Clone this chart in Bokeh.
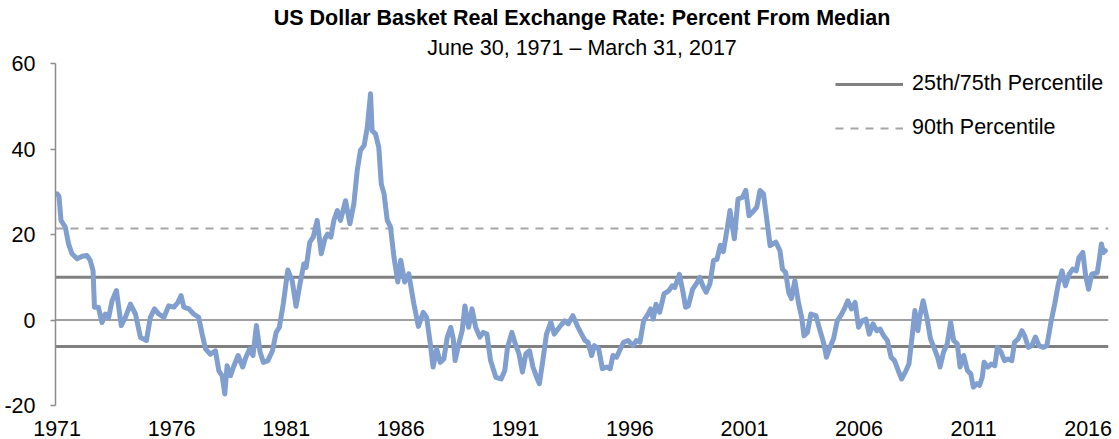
import numpy as np
from bokeh.plotting import figure
from bokeh.models import Range1d, FixedTicker, Span, Legend, LegendItem, Title, ColumnDataSource
from bokeh.embed import file_html
from bokeh.resources import INLINE

# ---- data (fractional year, percent from median) ----
dates = [
    1971.50, 1971.58, 1971.67, 1971.86, 1972.00, 1972.15, 1972.37, 1972.60, 1972.80, 1972.95,
    1973.07, 1973.13, 1973.30, 1973.46, 1973.60, 1973.75, 1973.90, 1974.09, 1974.30, 1974.48,
    1974.70, 1974.92, 1975.14, 1975.40, 1975.57, 1975.75, 1975.94, 1976.16, 1976.37, 1976.60,
    1976.77, 1976.91, 1977.03, 1977.25, 1977.46, 1977.68, 1977.83, 1977.98, 1978.19, 1978.41,
    1978.56, 1978.70, 1978.82, 1978.92, 1979.07, 1979.20, 1979.40, 1979.60, 1979.74, 1979.90,
    1980.05, 1980.20, 1980.36, 1980.50, 1980.70, 1980.90, 1981.06, 1981.20, 1981.37, 1981.57,
    1981.76, 1981.93, 1982.10, 1982.27, 1982.37, 1982.53, 1982.68, 1982.85, 1983.03, 1983.19,
    1983.30, 1983.45, 1983.58, 1983.73, 1983.87, 1984.09, 1984.28, 1984.45, 1984.60, 1984.74,
    1984.90, 1985.04, 1985.18, 1985.25, 1985.40, 1985.54, 1985.65, 1985.77, 1985.91, 1986.05,
    1986.20, 1986.37, 1986.50, 1986.67, 1986.85, 1987.07, 1987.27, 1987.48, 1987.63, 1987.79,
    1987.91, 1988.07, 1988.22, 1988.38, 1988.53, 1988.68, 1988.79, 1988.87, 1989.03, 1989.18,
    1989.30, 1989.46, 1989.61, 1989.77, 1989.95, 1990.10, 1990.26, 1990.42, 1990.65, 1990.88,
    1991.04, 1991.16, 1991.35, 1991.50, 1991.66, 1991.81, 1991.96, 1992.12, 1992.27, 1992.43,
    1992.55, 1992.70, 1992.86, 1993.05, 1993.20, 1993.42, 1993.65, 1993.81, 1994.01, 1994.20,
    1994.39, 1994.54, 1994.67, 1994.83, 1994.95, 1995.14, 1995.30, 1995.48, 1995.64, 1995.76,
    1995.92, 1996.08, 1996.23, 1996.42, 1996.63, 1996.78, 1996.94, 1997.10, 1997.25, 1997.41,
    1997.52, 1997.64, 1997.80, 1997.99, 1998.19, 1998.35, 1998.46, 1998.66, 1998.82, 1998.93,
    1999.05, 1999.24, 1999.44, 1999.55, 1999.68, 1999.83, 1999.99, 2000.15, 2000.30, 2000.45,
    2000.58, 2000.72, 2000.87, 2001.06, 2001.22, 2001.41, 2001.56, 2001.70, 2001.85, 2002.04,
    2002.18, 2002.33, 2002.50, 2002.62, 2002.87, 2003.05, 2003.16, 2003.30, 2003.43, 2003.55,
    2003.70, 2003.86, 2004.00, 2004.10, 2004.25, 2004.40, 2004.62, 2004.80, 2004.97, 2005.08,
    2005.23, 2005.39, 2005.55, 2005.70, 2005.86, 2006.01, 2006.17, 2006.33, 2006.48, 2006.64,
    2006.80, 2006.95, 2007.11, 2007.27, 2007.42, 2007.58, 2007.74, 2007.90, 2008.05, 2008.21,
    2008.36, 2008.52, 2008.68, 2008.83, 2008.94, 2009.07, 2009.15, 2009.30, 2009.46, 2009.62,
    2009.77, 2009.93, 2010.04, 2010.19, 2010.35, 2010.50, 2010.63, 2010.79, 2010.91, 2011.07,
    2011.23, 2011.38, 2011.49, 2011.65, 2011.76, 2011.88, 2011.96, 2012.12, 2012.27, 2012.43,
    2012.54, 2012.70, 2012.85, 2013.01, 2013.17, 2013.29, 2013.45, 2013.61, 2013.73, 2013.89,
    2014.04, 2014.20, 2014.36, 2014.54, 2014.70, 2014.89, 2015.04, 2015.20, 2015.36, 2015.51,
    2015.67, 2015.83, 2015.98, 2016.10, 2016.27, 2016.39, 2016.52, 2016.66, 2016.90, 2017.00,
    2017.08, 2017.17, 2017.25,
]
pct_from_median = [
    29.5, 29.0, 23.3, 21.7, 17.8, 15.5, 14.3, 14.9, 15.1, 13.9,
    11.5, 3.0, 3.0, -0.6, 1.4, 0.6, 4.5, 6.9, -1.3, 0.6,
    3.7, 1.4, -4.1, -4.8, 0.6, 2.6, 1.4, 0.6, 3.3, 3.0,
    4.1, 5.7, 3.0, 2.6, 1.4, 0.6, -3.3, -6.8, -8.0, -7.2,
    -11.9, -13.0, -17.3, -10.7, -13.0, -11.0, -8.3, -11.0, -8.7, -6.8,
    -8.3, -1.3, -7.5, -9.9, -9.5, -7.2, -2.9, -1.7, 3.7, 11.7,
    9.2, 3.2, 8.4, 13.1, 12.3, 18.2, 19.4, 23.3, 15.5, 19.0,
    20.1, 19.4, 23.3, 25.6, 23.3, 27.9, 22.5, 27.1, 35.0, 39.7,
    40.8, 45.1, 52.9, 44.3, 43.5, 40.4, 31.8, 29.5, 23.3, 21.8,
    14.8, 8.9, 14.0, 8.9, 10.8, 3.8, -1.5, 1.8, 0.6, -5.6,
    -11.0, -6.8, -9.9, -9.1, -4.0, -1.7, -4.4, -9.5, -5.6, -2.5,
    3.3, -1.7, 2.6, -1.7, -4.0, -2.9, -3.3, -9.5, -13.4, -13.8,
    -11.8, -6.4, -2.9, -5.6, -7.9, -12.2, -7.9, -7.2, -11.0, -13.4,
    -14.9, -9.5, -3.3, -0.5, -3.3, -1.7, -0.2, -0.9, 1.0, -1.3,
    -3.3, -4.8, -5.2, -8.3, -6.0, -6.8, -11.4, -11.0, -11.4, -8.3,
    -8.7, -6.8, -5.2, -4.8, -6.0, -4.8, -5.2, -0.2, 1.0, 2.6,
    0.2, 3.7, 1.8, 6.1, 6.8, 8.0, 7.6, 10.7, 6.5, 3.0,
    3.3, 7.2, 8.8, 10.0, 8.0, 6.5, 8.4, 13.9, 14.2, 17.5,
    16.0, 20.5, 25.6, 19.0, 28.3, 28.7, 30.3, 24.4, 25.2, 26.4,
    30.3, 29.5, 22.5, 17.4, 18.2, 16.2, 11.9, 11.1, 6.5, 5.0,
    9.2, 4.0, 0.6, -3.7, -2.9, 1.4, 1.0, -2.5, -5.6, -8.7,
    -6.4, -4.4, -0.2, 1.0, 2.6, 4.5, 2.6, 4.1, -1.7, -0.2,
    0.2, -3.3, -0.9, -2.5, -2.1, -3.7, -4.8, -8.7, -9.5, -11.8,
    -13.8, -12.2, -10.3, -3.3, 2.2, -2.5, 0.6, 4.5, 0.6, -4.4,
    -6.4, -8.7, -11.0, -7.5, -5.6, -0.5, -4.8, -5.6, -11.0, -8.3,
    -11.8, -12.6, -15.7, -14.9, -15.3, -13.4, -9.9, -11.0, -10.3, -10.7,
    -6.4, -7.5, -9.5, -9.1, -9.5, -5.2, -4.4, -2.5, -3.7, -6.4,
    -6.0, -4.0, -6.0, -6.4, -6.0, -0.2, 3.7, 8.4, 11.5, 8.0,
    10.7, 11.9, 11.5, 14.6, 15.8, 10.4, 7.2, 10.7, 11.1, 14.6,
    17.8, 15.8, 16.2,
]
percentile_25 = -6.2
percentile_75 = 10.0
percentile_90 = 21.4
tick_years = [1971, 1976, 1981, 1986, 1991, 1996, 2001, 2006, 2011, 2016]
tick_labels = [str(y) for y in tick_years]
y_ticks = [-20, 0, 20, 40, 60]
y_tick_labels = ["-20", "0", "20", "40", "60"]

FONT = "Liberation Sans"
FS = "21.5px"
BLUE = "#809ECE"
DARK = "#808080"
LIGHT = "#A6A6A6"

p = figure(width=1119, height=439, output_backend="svg", toolbar_location=None,
           x_range=Range1d(1971.43, 2017.39), y_range=Range1d(-20, 60),
           min_border_left=55, min_border_right=11, min_border_top=63, min_border_bottom=34,
           title=None)
p.outline_line_color = None
p.xgrid.visible = False
p.ygrid.visible = False
p.background_fill_color = "white"
p.border_fill_color = "white"

# reference lines
for loc, col, w, dash in [(0, "#A0A0A0", 2, "solid"),
                          (percentile_75, DARK, 3, "solid"),
                          (percentile_25, DARK, 3, "solid"),
                          (percentile_90, LIGHT, 2, "8 7")]:
    p.add_layout(Span(location=loc, dimension="width", line_color=col, line_width=w,
                      line_dash=dash, level="underlay"))

src = ColumnDataSource(dict(x=dates, y=pct_from_median))
p.line("x", "y", source=src, line_color=BLUE, line_width=5, line_join="round", line_cap="round")

# legend proxies
r1 = p.line(x=[np.nan], y=[np.nan], line_color=DARK, line_width=3)
r2 = p.line(x=[np.nan], y=[np.nan], line_color=LIGHT, line_width=2, line_dash="8 7")
legend = Legend(items=[LegendItem(label="25th/75th Percentile", renderers=[r1]),
                       LegendItem(label="90th Percentile", renderers=[r2])],
                location=(780, 265), orientation="vertical",
                glyph_width=68, glyph_height=24, label_height=24, spacing=19,
                padding=0, margin=0, label_standoff=9,
                label_text_font=FONT, label_text_font_size=FS, label_text_color="black",
                border_line_alpha=0, background_fill_alpha=0)
p.add_layout(legend)

# axes
xt = [y + 0.5 for y in tick_years]
p.xaxis.ticker = FixedTicker(ticks=xt)
p.xaxis.major_label_overrides = {t: l for t, l in zip(xt, tick_labels)}
p.xaxis.axis_line_color = None
p.xaxis.major_tick_line_color = None
p.xaxis.minor_tick_line_color = None
p.xaxis.major_label_standoff = 9
p.xaxis.major_label_text_font = FONT
p.xaxis.major_label_text_font_size = FS
p.xaxis.major_label_text_color = "black"

p.yaxis.ticker = FixedTicker(ticks=y_ticks)
p.yaxis.major_label_overrides = {t: l for t, l in zip(y_ticks, y_tick_labels)}
p.yaxis.axis_line_color = "#8C8C8C"
p.yaxis.axis_line_width = 1.5
p.yaxis.major_tick_line_color = "#8C8C8C"
p.yaxis.major_tick_line_width = 1.5
p.yaxis.major_tick_out = 5
p.yaxis.major_tick_in = 0
p.yaxis.minor_tick_line_color = None
p.yaxis.major_label_standoff = 15
p.yaxis.major_label_text_font = FONT
p.yaxis.major_label_text_font_size = FS
p.yaxis.major_label_text_color = "black"

# titles
p.add_layout(Title(text="June 30, 1971 \u2013 March 31, 2017", align="center",
                   text_font=FONT, text_font_size=FS, text_font_style="normal",
                   text_color="black", standoff=8), "above")
p.add_layout(Title(text="US Dollar Basket Real Exchange Rate: Percent From Median", align="center",
                   text_font=FONT, text_font_size=FS, text_font_style="bold",
                   text_color="black", standoff=0), "above")

open("out.html", "w").write(file_html(p, INLINE))
